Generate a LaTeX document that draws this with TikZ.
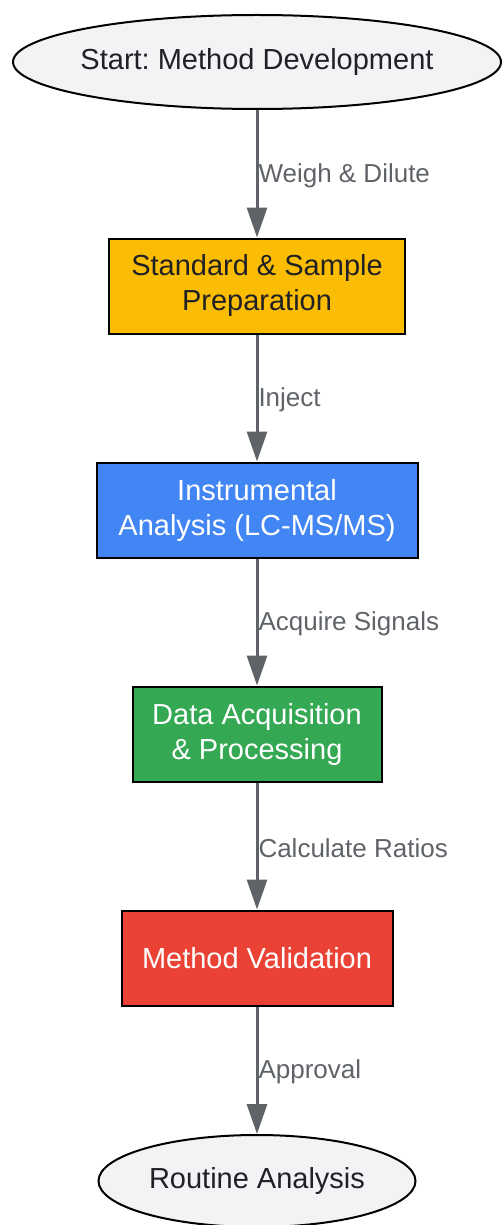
\documentclass[tikz,border=0pt]{standalone}
\usepackage{fontspec}
\setmainfont{Liberation Sans}
\frenchspacing
\usetikzlibrary{arrows.meta, shapes.geometric}
\definecolor{termfill}{HTML}{F1F3F4}
\definecolor{textdark}{HTML}{202124}
\definecolor{edgegray}{HTML}{5F6368}
\definecolor{prepyellow}{HTML}{FBBC04}
\definecolor{instblue}{HTML}{4285F4}
\definecolor{datagreen}{HTML}{34A853}
\definecolor{validred}{HTML}{EA4335}
\begin{document}
\begin{tikzpicture}[x=1pt, y=-1pt,
    every node/.style={font=\fontsize{29}{35}\selectfont, text=textdark},
    terminal/.style={ellipse, draw=black, line width=2pt, fill=termfill, inner xsep=-6pt, inner ysep=0pt},
    stepbox/.style={rectangle, draw=black, line width=2pt, minimum height=95pt, align=center},
    flow/.style={draw=edgegray, line width=3pt, -{Triangle[length=30pt, width=20pt]}},
    flowlabel/.style={anchor=west, inner sep=0pt, text=edgegray, font=\fontsize{26}{30}\selectfont}]
    \useasboundingbox (0,0) rectangle (502,1225);

    % Start and end
    \node[terminal, minimum width=488pt, minimum height=94pt] (start) at (257,62) {Start: Method Development};
    \node[terminal, minimum width=317pt, minimum height=92pt] (routine) at (257,1181) {Routine Analysis};

    % Process steps
    \node[stepbox, fill=prepyellow, minimum width=296pt] (prep) at (257,286) {Standard \& Sample\\Preparation};
    \node[stepbox, fill=instblue, text=white, minimum width=321pt] (inst) at (257,510) {Instrumental\\Analysis (LC-MS/MS)};
    \node[stepbox, fill=datagreen, text=white, minimum width=249pt] (data) at (257,734) {Data Acquisition\\\& Processing};
    \node[stepbox, fill=validred, text=white, minimum width=271pt] (valid) at (257,958) {Method Validation};

    % Connect the steps
    \draw[flow] (start) -- (prep) node[midway, flowlabel, yshift=-2pt] {Weigh \& Dilute};
    \draw[flow] (prep) -- (inst) node[midway, flowlabel, yshift=-2pt] {Inject};
    \draw[flow] (inst) -- (data) node[midway, flowlabel, yshift=-2pt] {Acquire Signals};
    \draw[flow] (data) -- (valid) node[midway, flowlabel, yshift=-2pt] {Calculate Ratios};
    \draw[flow] (valid) -- (routine) node[midway, flowlabel, yshift=-2pt] {Approval};
\end{tikzpicture}
\end{document}
